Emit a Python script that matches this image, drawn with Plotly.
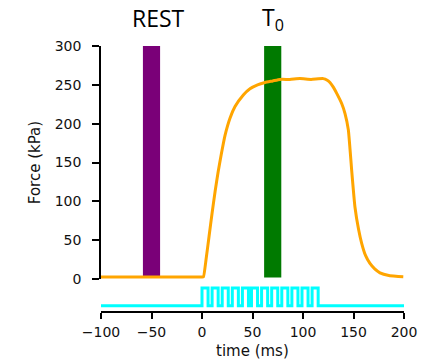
import plotly.graph_objects as go

# ---- data ----
force_t = [-100, -80, -60, -40, -20, 0, 1.5, 4, 7, 10, 13, 16, 19, 22.8, 27.7,
           32.7, 40.9, 47.5, 55, 62.4, 70, 77.2, 87, 97, 108, 120, 124, 126.7, 130,
           133.4, 138.3, 141.6, 144.9, 146.5, 148.2, 151.5, 155, 158.1, 162, 166.3,
           171, 176.2, 185, 192, 199.3]
force_kpa = [2.5, 2.5, 2.5, 2.5, 2.5, 2.5, 3, 25, 55, 85, 113, 138, 160, 185, 207,
             222, 237, 245, 250, 253, 255, 257, 257, 258, 257, 258, 256, 253, 247,
             239, 226, 213, 192, 168, 140, 92, 64, 46, 30, 20,
             13, 8, 4.5, 3.5, 3]

pulse_on = [0, 10, 20, 30, 40, 49, 59, 69, 79, 89, 99, 109]
pulse_off = [6, 16, 26, 36, 46, 55, 65, 75, 85, 95, 105, 115]
stim_low, stim_high = 0, 1

window_labels = ["REST", "T<sub>0</sub>"]
window_center = [-50, 70]
window_width = [17, 17]
window_colors = ["#7A0078", "#007A00"]
window_base = 2
window_top = 300

x_ticks = [-100, -50, 0, 50, 100, 150, 200]
y_ticks = [0, 50, 100, 150, 200, 250, 300]

# build stimulus step trace from pulse times
stim_t = [-100]
stim_v = [stim_low]
for on, off in zip(pulse_on, pulse_off):
    stim_t += [on, on, off, off]
    stim_v += [stim_low, stim_high, stim_high, stim_low]
stim_t.append(200)
stim_v.append(stim_low)

fig = go.Figure()

for c, w, col in zip(window_center, window_width, window_colors):
    fig.add_trace(go.Bar(x=[c], y=[window_top - window_base], base=[window_base],
                         width=[w], marker=dict(color=col, line=dict(width=0)),
                         xaxis="x", yaxis="y", showlegend=False, hoverinfo="skip"))

fig.add_trace(go.Scatter(x=force_t, y=force_kpa, mode="lines",
                         line=dict(color="#FFA500", width=3, shape="spline", smoothing=0.4),
                         xaxis="x", yaxis="y", showlegend=False))

fig.add_trace(go.Scatter(x=stim_t, y=stim_v, mode="lines",
                         line=dict(color="#00FFFF", width=3),
                         xaxis="x", yaxis="y2", showlegend=False))

tickfont = dict(family="DejaVu Sans", size=14, color="#111")

dom_split = (311 - 279) / 265

fig.update_layout(
    template="none",
    width=421, height=361,
    margin=dict(l=101, r=17, t=46, b=50),
    paper_bgcolor="white", plot_bgcolor="white",
    barmode="overlay",
    xaxis=dict(range=[-100, 200], tickvals=x_ticks, ticks="outside", ticklen=6,
               tickwidth=1.5, tickcolor="black", showline=True, linecolor="black",
               linewidth=1.5, showgrid=False, zeroline=False, anchor="y2",
               automargin=False, tickfont=tickfont, ticklabelstandoff=1),
    yaxis=dict(domain=[dom_split, 1], range=[0, 300], tickvals=y_ticks, ticks="outside",
               ticklen=7, tickwidth=1.5, tickcolor="black", showline=True,
               linecolor="black", linewidth=1.5, showgrid=False, zeroline=False,
               anchor="x", automargin=False, tickfont=tickfont, ticklabelstandoff=8,
               title=dict(text="Force (kPa)", font=dict(family="DejaVu Sans", size=15, color="#111"),
                          standoff=10)),
    yaxis2=dict(domain=[0, dom_split], range=[-0.3, 1.5], visible=False, anchor="x",
                automargin=False),
)

# x-axis title as an annotation placed just below the tick labels
fig.add_annotation(text="time (ms)", x=50, xref="x", y=(311 - 351) / 265, yref="paper",
                   showarrow=False, xanchor="center", yanchor="middle", borderpad=0,
                   font=dict(family="DejaVu Sans", size=15, color="#111"))

label_x = [-43.5, 70.5]
for txt, lx in zip(window_labels, label_x):
    fig.add_annotation(text=txt, x=lx, xref="x", y=1 + (46 - 18) / 265, yref="paper",
                       showarrow=False, xanchor="center", yanchor="middle",
                       font=dict(family="Open Sans", size=23, color="black"))

fig.write_html("out.html")
